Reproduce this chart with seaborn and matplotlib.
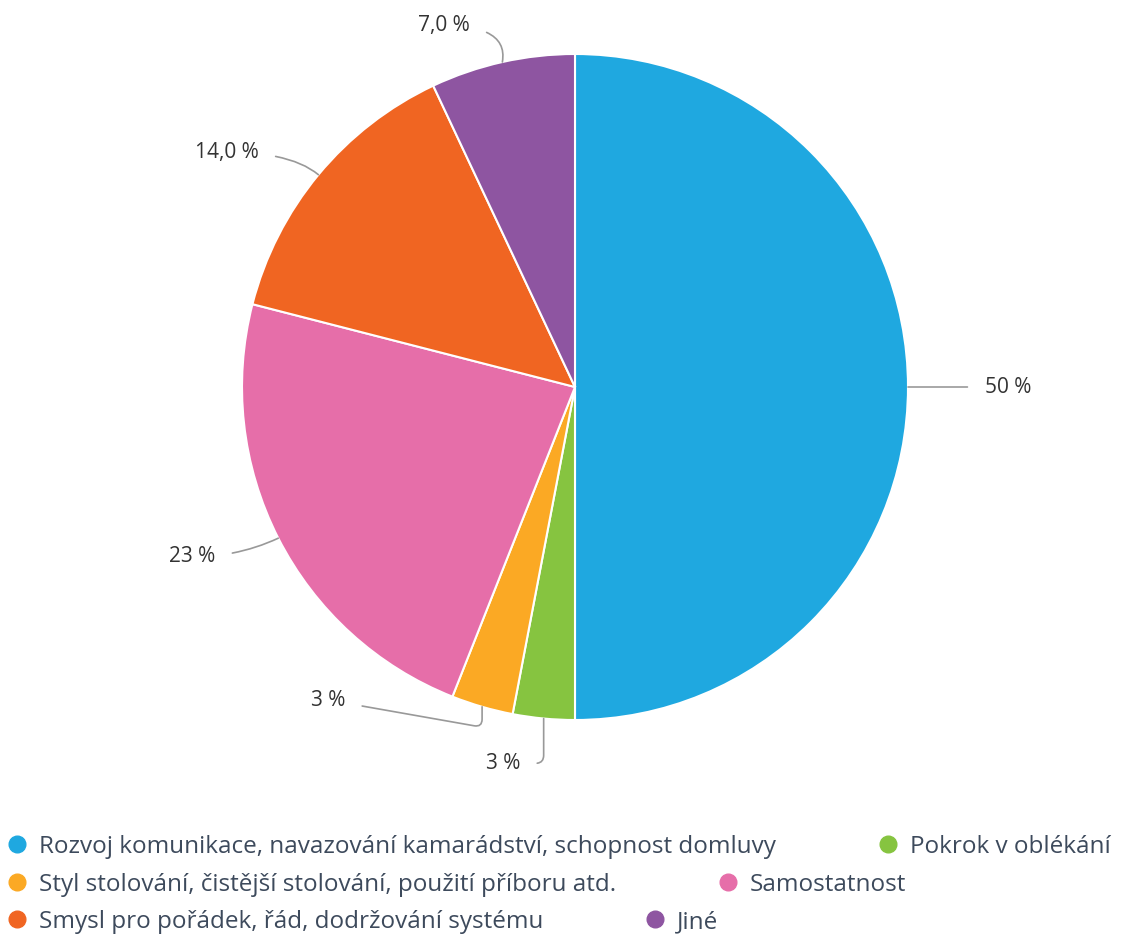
"""Pie chart: what the kids improved in (Czech survey), redrawn with seaborn/matplotlib."""
import matplotlib
matplotlib.use("Agg")
import matplotlib.pyplot as plt
from matplotlib.lines import Line2D
import numpy as np
import seaborn as sns

categories = [
    "Rozvoj komunikace, navazování kamarádství, schopnost domluvy",
    "Pokrok v oblékání",
    "Styl stolování, čistější stolování, použití příboru atd.",
    "Samostatnost",
    "Smysl pro pořádek, řád, dodržování systému",
    "Jiné",
]
shares = [50, 3, 3, 23, 14, 7]
value_labels = ["50 %", "3 %", "3 %", "23 %", "14,0 %", "7,0 %"]
colors = ["#1fa8e0", "#86c440", "#fba924", "#e66ea9", "#f06522", "#8e55a1"]

# label text anchors (data units, radius = 1) and connector styles
label_xy = [(1.23, 0.0), (-0.165, -1.13), (-0.69, -0.94), (-1.08, -0.51), (-0.95, 0.705), (-0.315, 1.085)]
conn = [
    "arc3,rad=0",
    "angle,angleA=0,angleB=90,rad=8",
    "angle,angleA=-10,angleB=90,rad=8",
    "angle3,angleA=0,angleB=25",
    "angle3,angleA=0,angleB=-40",
    "angle3,angleA=0,angleB=80",
]

sns.set_theme(style="white")
plt.rcParams["font.family"] = ["Open Sans", "DejaVu Sans"]

W, H = 1121, 938
cx, cy, R = 575, 387, 333
fig = plt.figure(figsize=(W / 100, H / 100), dpi=100)
ax = fig.add_axes([0, 0, 1, 1])

wedges, _ = ax.pie(
    shares, colors=colors, startangle=90, counterclock=False, radius=1,
    wedgeprops=dict(edgecolor="white", linewidth=1.5),
)
ax.set_aspect("auto")
ax.set_xlim(-cx / R, (W - cx) / R)
ax.set_ylim(-(H - cy) / R, cy / R)
ax.axis("off")

for w, lab, xy, cs in zip(wedges, value_labels, label_xy, conn):
    ang = np.deg2rad((w.theta1 + w.theta2) / 2)
    pt = (np.cos(ang), np.sin(ang))
    ha = "left" if xy[0] > 0 else "right"
    ax.annotate(
        lab, xy=pt, xytext=xy, ha=ha, va="center", fontsize=15, color="#333333",
        arrowprops=dict(arrowstyle="-", color="#999999", lw=1.2, connectionstyle=cs,
                        shrinkA=10, shrinkB=0),
    )

# legend laid out in rows of two, like the original flow layout
rows = [(0, 1), (2, 3), (4, 5)]
row_y = [847, 885, 922]
for (i, j), y in zip(rows, row_y):
    handles = [
        Line2D([], [], marker="o", linestyle="", markersize=12, color=colors[k],
               label=categories[k])
        for k in (i, j)
    ]
    fig.legend(
        handles=handles, ncol=2, loc="center left", bbox_to_anchor=(10 / W, 1 - y / H),
        frameon=False, fontsize=17.5, labelcolor="#3d4a5c", handletextpad=0.6,
        columnspacing=4.3, borderaxespad=0, borderpad=0, handlelength=0.6,
    )

fig.savefig("out.png", dpi=100)
